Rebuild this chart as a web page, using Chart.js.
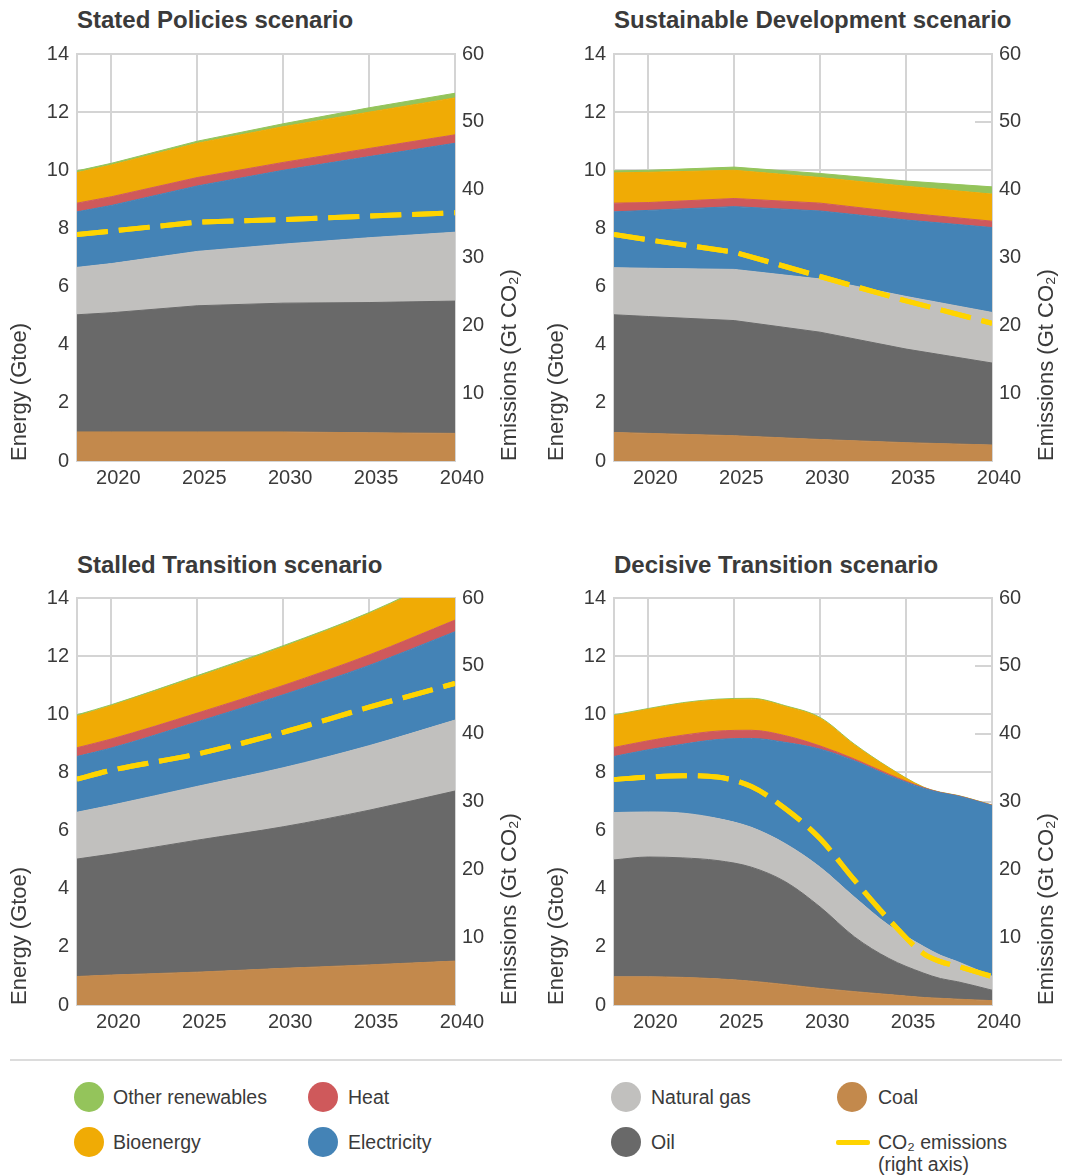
<!DOCTYPE html>
<html>
<head>
<meta charset="utf-8">
<script src="https://cdn.jsdelivr.net/npm/chart.js@4.4.0/dist/chart.umd.min.js"></script>
<style>
  body { margin: 0; background: #fff; width: 1067px; height: 1175px; position: relative; overflow: hidden; font-family: "Liberation Sans", Arial, sans-serif; color: #3a3a3a; }
  .title { position: absolute; font-weight: bold; font-size: 24px; line-height: 28px; white-space: nowrap; }
  .panel { position: absolute; width: 530px; height: 487px; }
  .rule { position: absolute; left: 10px; top: 1059px; width: 1052px; height: 2px; background: #dcdcdc; }
  .dot { position: absolute; width: 30px; height: 30px; border-radius: 50%; }
  .lab { position: absolute; font-size: 19.5px; line-height: 22px; white-space: nowrap; }
  .co2 { position: absolute; width: 34px; height: 5px; background: #ffd400; border-radius: 2px; }
</style>
</head>
<body>
<div class="title" style="left:77px;top:6px">Stated Policies scenario</div>
<div class="title" style="left:614px;top:6px">Sustainable Development scenario</div>
<div class="title" style="left:77px;top:551px">Stalled Transition scenario</div>
<div class="title" style="left:614px;top:551px">Decisive Transition scenario</div>

<div class="panel" style="left:0;top:18px"><canvas id="c1" width="530" height="487"></canvas></div>
<div class="panel" style="left:537px;top:18px"><canvas id="c2" width="530" height="487"></canvas></div>
<div class="panel" style="left:0;top:562px"><canvas id="c3" width="530" height="487"></canvas></div>
<div class="panel" style="left:537px;top:562px"><canvas id="c4" width="530" height="487"></canvas></div>

<div class="rule"></div>
<div class="dot" style="left:74px;top:1082px;background:#94c45b"></div>
<div class="lab" style="left:113px;top:1086px">Other renewables</div>
<div class="dot" style="left:308px;top:1082px;background:#cf595b"></div>
<div class="lab" style="left:348px;top:1086px">Heat</div>
<div class="dot" style="left:611px;top:1082px;background:#c1c0be"></div>
<div class="lab" style="left:651px;top:1086px">Natural gas</div>
<div class="dot" style="left:837px;top:1082px;background:#c3894c"></div>
<div class="lab" style="left:878px;top:1086px">Coal</div>
<div class="dot" style="left:74px;top:1127px;background:#f0ab05"></div>
<div class="lab" style="left:113px;top:1131px">Bioenergy</div>
<div class="dot" style="left:308px;top:1127px;background:#4483b6"></div>
<div class="lab" style="left:348px;top:1131px">Electricity</div>
<div class="dot" style="left:611px;top:1127px;background:#696969"></div>
<div class="lab" style="left:651px;top:1131px">Oil</div>
<div class="co2" style="left:836px;top:1140px"></div>
<div class="lab" style="left:878px;top:1131px">CO₂ emissions</div>
<div class="lab" style="left:878px;top:1153px">(right axis)</div>

<script>
// x axis ticks
const xTicks = [2020, 2025, 2030, 2035, 2040]

const fuelNames = ['Coal', 'Oil', 'Natural gas', 'Electricity', 'Heat', 'Bioenergy', 'Other renewables']
const fuelColors = ['#c3894c', '#696969', '#c1c0be', '#4483b6', '#cf595b', '#f0ab05', '#94c45b']

// Stated Policies (Gtoe per fuel, CO2 in Gt)
const statedYears = [2018, 2020, 2025, 2030, 2035, 2040]
const statedCoal = [1.0, 1.0, 1.0, 1.0, 0.97, 0.95]
const statedOil = [4.03, 4.1, 4.34, 4.43, 4.48, 4.55]
const statedGas = [1.63, 1.69, 1.87, 2.03, 2.23, 2.37]
const statedElec = [1.91, 2.0, 2.25, 2.54, 2.79, 3.06]
const statedHeat = [0.30, 0.30, 0.29, 0.27, 0.28, 0.29]
const statedBio = [1.05, 1.09, 1.18, 1.23, 1.25, 1.27]
const statedOther = [0.06, 0.06, 0.07, 0.10, 0.15, 0.16]
const statedCO2 = [33.4, 33.9, 35.2, 35.6, 36.1, 36.6]

// Sustainable Development
const sustYears = [2018, 2020, 2025, 2030, 2035, 2040]
const sustCoal = [0.98, 0.95, 0.87, 0.74, 0.63, 0.55]
const sustOil = [4.05, 4.02, 3.96, 3.69, 3.22, 2.82]
const sustGas = [1.62, 1.66, 1.76, 1.83, 1.81, 1.74]
const sustElec = [1.92, 1.99, 2.16, 2.34, 2.63, 2.92]
const sustHeat = [0.30, 0.27, 0.28, 0.27, 0.24, 0.22]
const sustBio = [1.04, 1.04, 0.97, 0.88, 0.92, 0.93]
const sustOther = [0.07, 0.07, 0.11, 0.14, 0.18, 0.25]
const sustCO2 = [33.4, 32.6, 30.8, 27.2, 23.6, 20.3]

// Stalled Transition
const stalledYears = [2018, 2020, 2025, 2030, 2035, 2040]
const stalledCoal = [0.98, 1.03, 1.13, 1.26, 1.38, 1.51]
const stalledOil = [4.04, 4.16, 4.54, 4.87, 5.32, 5.85]
const stalledGas = [1.61, 1.68, 1.85, 2.03, 2.22, 2.44]
const stalledElec = [1.92, 1.97, 2.22, 2.51, 2.76, 3.04]
const stalledHeat = [0.30, 0.31, 0.30, 0.32, 0.36, 0.40]
const stalledBio = [1.08, 1.14, 1.24, 1.32, 1.42, 1.6]
const stalledOther = [0.05, 0.04, 0.05, 0.05, 0.04, 0.05]
const stalledCO2 = [33.3, 34.6, 37.0, 40.2, 43.9, 47.4]

// Decisive Transition
const decisiveYears = [2018, 2020, 2022, 2024, 2026, 2028, 2030, 2032, 2034, 2036, 2037, 2038, 2040]
const decisiveCoal = [0.97, 0.97, 0.95, 0.90, 0.82, 0.70, 0.57, 0.46, 0.36, 0.26, 0.23, 0.20, 0.15]
const decisiveOil = [4.02, 4.12, 4.11, 4.07, 3.92, 3.53, 2.80, 1.88, 1.24, 0.84, 0.68, 0.60, 0.36]
const decisiveGas = [1.63, 1.55, 1.54, 1.45, 1.37, 1.31, 1.37, 1.37, 1.14, 0.92, 0.80, 0.69, 0.48]
const decisiveElec = [1.93, 2.14, 2.37, 2.71, 3.06, 3.49, 4.06, 4.69, 5.15, 5.44, 5.59, 5.70, 5.87]
const decisiveHeat = [0.31, 0.31, 0.31, 0.29, 0.28, 0.23, 0.11, 0.06, 0.05, 0.02, 0.01, 0.01, 0.01]
const decisiveBio = [1.09, 1.08, 1.09, 1.07, 1.07, 1.00, 0.95, 0.48, 0.21, 0.01, 0, 0, 0]
const decisiveOther = [0.03, 0.03, 0.03, 0.03, 0.03, 0.03, 0.03, 0.03, 0.02, 0.01, 0.01, 0.01, 0.01]
const decisiveCO2 = [33.25, 33.6, 33.8, 33.6, 32.2, 28.9, 24.5, 18.4, 12.6, 7.6, 6.4, 5.7, 4.2]

const gridColor = '#d4d4d4'
const textColor = '#3a3a3a'
const fontFamily = '"Liberation Sans", Arial, sans-serif'

// right axis title reads bottom-to-top, chart.js would flip it, so draw it here
const rightTitle = {
  id: 'rightTitle',
  afterDraw (chart) {
    const ctx = chart.ctx
    const area = chart.chartArea
    // put the co2 line back on top of the grid
    const meta = chart.getDatasetMeta(chart.data.datasets.length - 1)
    ctx.save()
    ctx.beginPath()
    ctx.rect(area.left, area.top - 3, area.right - area.left, area.bottom - area.top + 6)
    ctx.clip()
    meta.controller.draw()
    ctx.restore()

    ctx.save()
    ctx.translate(510, area.bottom)
    ctx.rotate(-Math.PI / 2)
    ctx.font = '22px ' + fontFamily
    ctx.fillStyle = textColor
    ctx.textAlign = 'left'
    ctx.textBaseline = 'middle'
    ctx.fillText('Emissions (Gt CO₂)', 0, 0)
    ctx.restore()
  }
}

function buildChart (id, years, fuelValues, co2, smooth) {
  const mode = smooth ? 'monotone' : 'default'
  const datasets = fuelValues.map((vals, i) => ({
    label: fuelNames[i],
    data: vals.map((v, j) => ({ x: years[j], y: v })),
    backgroundColor: fuelColors[i],
    borderColor: fuelColors[i],
    borderWidth: 1,
    pointRadius: 0,
    tension: 0,
    cubicInterpolationMode: mode,
    fill: i === 0 ? 'origin' : '-1',
    yAxisID: 'y'
  }))
  datasets.push({
    label: 'CO₂ emissions',
    data: co2.map((v, j) => ({ x: years[j], y: v })),
    borderColor: '#ffd400',
    borderWidth: 5,
    borderDash: [31, 11],
    pointRadius: 0,
    tension: 0,
    cubicInterpolationMode: mode,
    fill: false,
    yAxisID: 'y2',
    order: -1
  })

  return new Chart(document.getElementById(id), {
    type: 'line',
    data: { datasets },
    plugins: [rightTitle],
    options: {
      responsive: false,
      animation: false,
      layout: { padding: { top: 13, left: 0, right: 0, bottom: 0 } },
      plugins: { legend: { display: false }, tooltip: { enabled: false } },
      scales: {
        x: {
          type: 'linear',
          min: 2018,
          max: 2040,
          z: 1,
          afterBuildTicks: (s) => { s.ticks = xTicks.map(v => ({ value: v })) },
          afterFit: (s) => { s.height = 44 },
          grid: { color: gridColor, lineWidth: 2, drawTicks: false },
          border: { color: gridColor, width: 2 },
          ticks: {
            callback: v => String(v),
            padding: 5,
            labelOffset: 7,
            maxRotation: 0,
            autoSkip: false,
            color: textColor,
            font: { family: fontFamily, size: 20 }
          }
        },
        y: {
          stacked: true,
          position: 'left',
          min: 0,
          max: 14,
          z: 1,
          afterFit: (s) => { s.width = 77 },
          grid: { color: gridColor, lineWidth: 2, drawTicks: false },
          border: { color: gridColor, width: 2 },
          ticks: { stepSize: 2, padding: 8, color: textColor, font: { family: fontFamily, size: 20 } },
          title: {
            display: true,
            text: 'Energy (Gtoe)',
            align: 'start',
            color: textColor,
            padding: { top: 7, bottom: 0 },
            font: { family: fontFamily, size: 22 }
          }
        },
        y2: {
          position: 'right',
          min: 0,
          max: 60,
          z: 1,
          afterFit: (s) => { s.width = 75 },
          grid: { drawOnChartArea: false, tickLength: -17, color: gridColor, lineWidth: 2 },
          border: { color: gridColor, width: 2 },
          ticks: {
            stepSize: 10,
            padding: 24,
            callback: v => (v === 0 ? '' : String(v)),
            color: textColor,
            font: { family: fontFamily, size: 20 }
          }
        }
      }
    }
  })
}

buildChart('c1', statedYears,
  [statedCoal, statedOil, statedGas, statedElec, statedHeat, statedBio, statedOther], statedCO2, false)
buildChart('c2', sustYears,
  [sustCoal, sustOil, sustGas, sustElec, sustHeat, sustBio, sustOther], sustCO2, false)
buildChart('c3', stalledYears,
  [stalledCoal, stalledOil, stalledGas, stalledElec, stalledHeat, stalledBio, stalledOther], stalledCO2, true)
buildChart('c4', decisiveYears,
  [decisiveCoal, decisiveOil, decisiveGas, decisiveElec, decisiveHeat, decisiveBio, decisiveOther], decisiveCO2, true)
</script>
</body>
</html>
